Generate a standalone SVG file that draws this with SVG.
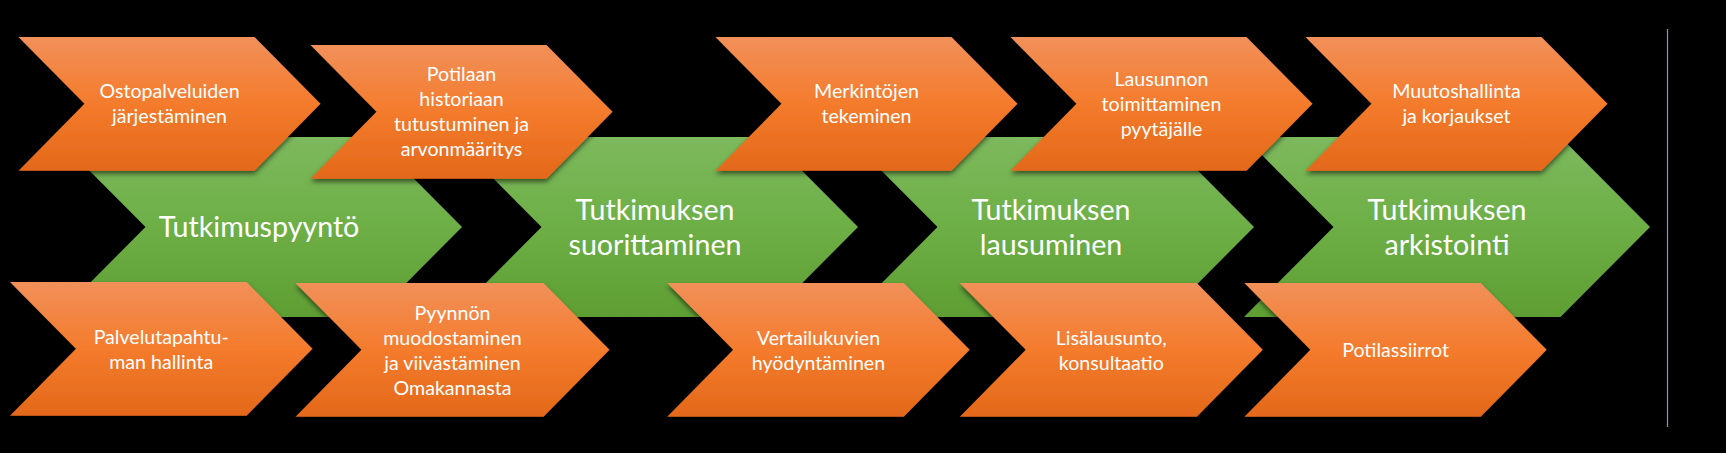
<svg xmlns="http://www.w3.org/2000/svg" width="1726" height="453" viewBox="0 0 1726 453">
<style>
.bg{fill:#000}
.g{fill:url(#gg)}
.o{fill:url(#og);filter:url(#sh)}
.t{font-family:Lato,"Open Sans","Liberation Sans",sans-serif;fill:#fff;text-anchor:middle}
.ts{font-size:19.6px}
.tl{font-size:28.6px}
</style>
<defs>
<linearGradient id="og" x1="0" y1="0" x2="0" y2="1">
<stop offset="0" stop-color="#F1905A"/>
<stop offset="0.5" stop-color="#F47B2C"/>
<stop offset="1" stop-color="#E3681A"/>
</linearGradient>
<linearGradient id="gg" x1="0" y1="0" x2="0" y2="1">
<stop offset="0" stop-color="#7DB95D"/>
<stop offset="0.5" stop-color="#6DAF46"/>
<stop offset="1" stop-color="#5E9E33"/>
</linearGradient>
<filter id="sh" x="-10%" y="-10%" width="125%" height="130%">
<feDropShadow dx="0" dy="3" stdDeviation="2.5" flood-color="#000" flood-opacity="0.55"/>
</filter>
</defs>
<rect class="bg" x="0" y="0" width="1726" height="453"/>
<line x1="1667.5" y1="29" x2="1667.5" y2="427" stroke="#6A9FD8" stroke-width="1.2"/>
<g id="connectors"></g>
<g id="g1"><polygon class="g" points="56,137 372.5,137 462,227 372.5,317 56,317 145.5,227"/><text class="t tl" x="259" y="237.3">Tutkimuspyyntö</text></g>
<g id="g2"><polygon class="g" points="452,137 768.5,137 858,227 768.5,317 452,317 541.5,227"/><text class="t tl" x="655" y="219.5">Tutkimuksen<tspan x="655" dy="35">suorittaminen</tspan></text></g>
<g id="g3"><polygon class="g" points="848,137 1164.5,137 1254,227 1164.5,317 848,317 937.5,227"/><text class="t tl" x="1051" y="219.5">Tutkimuksen<tspan x="1051" dy="35">lausuminen</tspan></text></g>
<g id="g4"><polygon class="g" points="1244,137 1560.5,137 1650,227 1560.5,317 1244,317 1333.5,227"/><text class="t tl" x="1447" y="219.5">Tutkimuksen<tspan x="1447" dy="35">arkistointi</tspan></text></g>

<g id="o1"><polygon class="o" points="18.5,37 254.5,37 320.5,103.85 254.5,170.7 18.5,170.7 84.5,103.85"/><text class="t ts" x="169.5" y="98.4">Ostopalveluiden<tspan x="169.5" dy="25">järjestäminen</tspan></text></g>
<g id="o2"><polygon class="o" points="310.5,45 546.5,45 612.5,111.85 546.5,178.7 310.5,178.7 376.5,111.85"/><text class="t ts" x="461.5" y="81.4">Potilaan<tspan x="461.5" dy="25">historiaan</tspan><tspan x="461.5" dy="25">tutustuminen ja</tspan><tspan x="461.5" dy="25">arvonmääritys</tspan></text></g>
<g id="o3"><polygon class="o" points="715.5,37 951.5,37 1017.5,103.85 951.5,170.7 715.5,170.7 781.5,103.85"/><text class="t ts" x="866.5" y="98.4">Merkintöjen<tspan x="866.5" dy="25">tekeminen</tspan></text></g>
<g id="o4"><polygon class="o" points="1010.5,37 1246.5,37 1312.5,103.85 1246.5,170.7 1010.5,170.7 1076.5,103.85"/><text class="t ts" x="1161.5" y="86">Lausunnon<tspan x="1161.5" dy="25">toimittaminen</tspan><tspan x="1161.5" dy="25">pyytäjälle</tspan></text></g>
<g id="o5"><polygon class="o" points="1305.5,37 1541.5,37 1607.5,103.85 1541.5,170.7 1305.5,170.7 1371.5,103.85"/><text class="t ts" x="1456.5" y="98.4">Muutoshallinta<tspan x="1456.5" dy="25">ja korjaukset</tspan></text></g>

<g id="o6"><polygon class="o" points="10,282 246.5,282 312.5,348.85 246.5,415.7 10,415.7 76,348.85"/><text class="t ts" x="161.2" y="343.5">Palvelutapahtu-<tspan x="161.2" dy="25">man hallinta</tspan></text></g>
<g id="o7"><polygon class="o" points="295.5,283 543.5,283 609.5,349.85 543.5,416.7 295.5,416.7 361.5,349.85"/><text class="t ts" x="452.5" y="319.5">Pyynnön<tspan x="452.5" dy="25">muodostaminen</tspan><tspan x="452.5" dy="25">ja viivästäminen</tspan><tspan x="452.5" dy="25">Omakannasta</tspan></text></g>
<g id="o8"><polygon class="o" points="667.2,283 903.7,283 969.7,349.85 903.7,416.7 667.2,416.7 733.2,349.85"/><text class="t ts" x="818.5" y="344.5">Vertailukuvien<tspan x="818.5" dy="25">hyödyntäminen</tspan></text></g>
<g id="o9"><polygon class="o" points="959.8,283 1196.8,283 1262.8,349.85 1196.8,416.7 959.8,416.7 1025.8,349.85"/><text class="t ts" x="1111.3" y="344.5">Lisälausunto,<tspan x="1111.3" dy="25">konsultaatio</tspan></text></g>
<g id="o10"><polygon class="o" points="1244.4,283 1480.7,283 1546.7,349.85 1480.7,416.7 1244.4,416.7 1310.4,349.85"/><text class="t ts" x="1395.6" y="357">Potilassiirrot</text></g>
</svg>
